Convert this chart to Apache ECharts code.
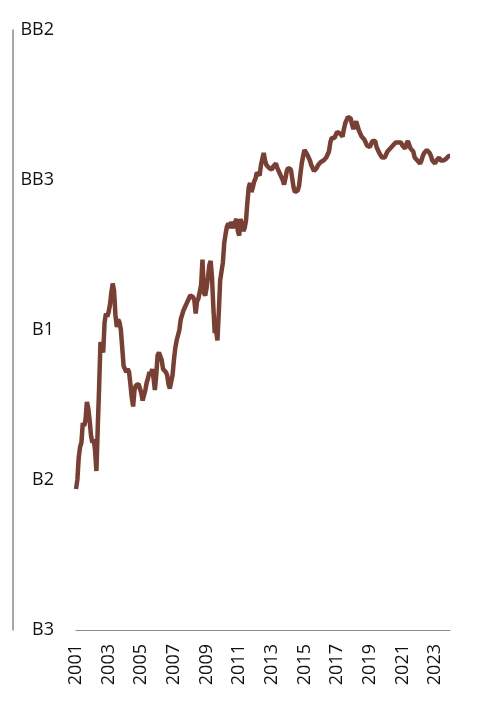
<!DOCTYPE html>
<html>
<head>
<meta charset="utf-8">
<script src="https://cdn.jsdelivr.net/npm/echarts@6/dist/echarts.min.js"></script>
<style>
  html, body { margin: 0; padding: 0; background: #fff; }
  #main { width: 480px; height: 708px; }
</style>
</head>
<body>
<div id="main"></div>
<script>
    // 评级刻度（自下而上）
    var ratingLabels = ['B3', 'B2', 'B1', 'BB3', 'BB2'];
    var years = [2001, 2002, 2003, 2004, 2005, 2006, 2007, 2008, 2009, 2010, 2011, 2012,
                 2013, 2014, 2015, 2016, 2017, 2018, 2019, 2020, 2021, 2022, 2023];
    var months = ['01', '02', '03', '04', '05', '06', '07', '08', '09', '10', '11', '12'];

    // 月度评级（0 = B3 ... 4 = BB2）
    var rating = [
        0.94, 1.00, 1.15, 1.22, 1.25, 1.38, 1.36, 1.40, 1.52, 1.48, 1.40, 1.30,   // 2001
        1.25, 1.27, 1.20, 1.06, 1.35, 1.62, 1.92, 1.88, 1.85, 2.05, 2.11, 2.09,   // 2002
        2.12, 2.17, 2.25, 2.31, 2.26, 2.10, 2.02, 2.07, 2.05, 2.00, 1.88, 1.76,   // 2003
        1.74, 1.72, 1.74, 1.72, 1.64, 1.55, 1.49, 1.60, 1.63, 1.62, 1.64, 1.61,   // 2004
        1.58, 1.53, 1.52, 1.60, 1.65, 1.68, 1.72, 1.70, 1.74, 1.68, 1.60, 1.70,   // 2005
        1.83, 1.85, 1.84, 1.80, 1.74, 1.73, 1.72, 1.70, 1.64, 1.61, 1.62, 1.70,   // 2006
        1.80, 1.88, 1.93, 1.92, 2.00, 2.07, 2.10, 2.13, 2.15, 2.17, 2.19, 2.21,   // 2007
        2.23, 2.24, 2.22, 2.20, 2.11, 2.19, 2.21, 2.22, 2.30, 2.47, 2.25, 2.23,   // 2008
        2.28, 2.35, 2.43, 2.46, 2.35, 2.15, 1.98, 2.00, 1.93, 2.12, 2.33, 2.34,   // 2009
        2.45, 2.58, 2.64, 2.69, 2.71, 2.68, 2.72, 2.70, 2.68, 2.72, 2.74, 2.66,   // 2010
        2.63, 2.74, 2.70, 2.66, 2.68, 2.73, 2.85, 2.95, 2.98, 2.92, 2.95, 2.99,   // 2011
        3.01, 3.05, 3.06, 3.03, 3.10, 3.14, 3.18, 3.13, 3.10, 3.09, 3.08, 3.07,   // 2012
        3.07, 3.09, 3.10, 3.11, 3.08, 3.06, 3.04, 3.02, 3.00, 2.97, 3.01, 3.06,   // 2013
        3.08, 3.09, 3.07, 3.01, 2.95, 2.92, 2.91, 2.93, 2.96, 3.04, 3.11, 3.16,   // 2014
        3.20, 3.19, 3.17, 3.15, 3.13, 3.10, 3.08, 3.06, 3.06, 3.08, 3.10, 3.11,   // 2015
        3.12, 3.13, 3.13, 3.14, 3.15, 3.17, 3.19, 3.25, 3.28, 3.29, 3.28, 3.30,   // 2016
        3.32, 3.33, 3.31, 3.30, 3.29, 3.34, 3.38, 3.40, 3.42, 3.42, 3.41, 3.37,   // 2017
        3.34, 3.37, 3.39, 3.36, 3.33, 3.31, 3.29, 3.28, 3.27, 3.25, 3.23, 3.22,   // 2018
        3.22, 3.24, 3.26, 3.26, 3.26, 3.22, 3.20, 3.18, 3.17, 3.15, 3.14, 3.15,   // 2019
        3.17, 3.19, 3.20, 3.21, 3.22, 3.23, 3.24, 3.25, 3.26, 3.25, 3.24, 3.25,   // 2020
        3.23, 3.22, 3.21, 3.24, 3.26, 3.27, 3.21, 3.20, 3.19, 3.15, 3.14, 3.13,   // 2021
        3.12, 3.11, 3.13, 3.16, 3.18, 3.19, 3.20, 3.20, 3.18, 3.16, 3.13, 3.12,   // 2022
        3.11, 3.13, 3.14, 3.15, 3.13, 3.12, 3.13, 3.14, 3.14, 3.15, 3.16, 3.16    // 2023
    ];

    var monthCats = [];
    for (var i = 0; i < years.length; i++) {
        for (var j = 0; j < months.length; j++) {
            monthCats.push(years[i] + '-' + months[j]);
        }
    }

    var myChart = echarts.init(document.getElementById('main'));
    myChart.setOption({
        animation: false,
        textStyle: {
            fontFamily: 'Open Sans',
        },
        grid: {
            left: 76,
            right: 30,
            top: 30,
            bottom: 78,
        },
        xAxis: {
            type: 'category',
            data: monthCats,
            boundaryGap: false,
            axisLine: { show: true, lineStyle: { color: '#8a8a8a', width: 1.2 } },
            axisTick: { show: false },
            axisLabel: {
                rotate: 90,
                margin: 14,
                fontSize: 18,
                color: '#111',
                interval: function (index) {
                    return index % 24 === 0;
                },
                formatter: function (value) {
                    return value.substring(0, 4);
                }
            },
            splitLine: { show: false },
        },
        yAxis: [{
            type: 'value',
            min: 0,
            max: 4,
            interval: 1,
            axisLine: { show: false },
            axisTick: { show: false },
            splitLine: { show: false },
            axisLabel: {
                margin: 22,
                fontSize: 18,
                color: '#111',
                formatter: function (v) {
                    return ratingLabels[v];
                }
            }
        }, {
            // 左侧的竖线
            type: 'value',
            position: 'left',
            offset: 63,
            min: 0,
            max: 4,
            axisLine: { show: true, lineStyle: { color: '#8a8a8a', width: 1.5 } },
            axisTick: { show: false },
            axisLabel: { show: false },
            splitLine: { show: false },
        }],
        series: [{
            type: 'line',
            data: rating,
            showSymbol: false,
            symbol: 'none',
            lineStyle: { color: '#7a3f33', width: 4.5 },
        }]
    });
</script>
</body>
</html>
